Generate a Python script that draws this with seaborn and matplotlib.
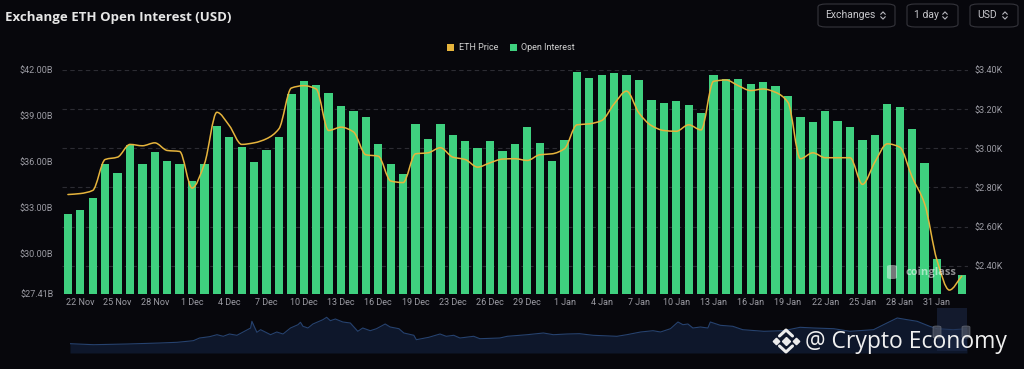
import matplotlib
matplotlib.use('Agg')
import numpy as np
import pandas as pd
import seaborn as sns
import matplotlib.pyplot as plt
import matplotlib.transforms as mtransforms
from matplotlib.path import Path
from matplotlib.patches import PathPatch, Patch, FancyBboxPatch, Rectangle
from matplotlib.lines import Line2D

# ---- data ----
dates = pd.date_range('2024-11-21', '2025-02-02').drop(pd.Timestamp('2024-12-21'))
date_labels = [f"{d.day} {d.strftime('%b')}" for d in dates]

# open interest, billions USD
open_interest = [32.59, 32.85, 33.63, 35.85, 35.26, 37.09, 35.85, 36.67, 36.06, 35.85,
                 34.76, 35.85, 38.35, 37.63, 37.00, 36.00, 36.78, 37.63, 40.41, 41.30,
                 41.02, 40.48, 39.67, 39.33, 38.96, 37.19, 35.87, 35.22, 38.48, 37.52,
                 38.48, 37.74, 37.37, 36.93, 37.35, 36.70, 37.15, 38.26, 37.24, 36.06,
                 37.43, 41.89, 41.46, 41.65, 41.83, 41.65, 41.37, 40.06, 39.85, 39.96,
                 39.70, 39.17, 41.65, 41.39, 41.41, 41.07, 41.20, 40.96, 40.30, 38.91,
                 38.59, 39.33, 38.65, 38.26, 37.46, 37.78, 39.80, 39.57, 38.13, 35.96,
                 29.65, 27.41, 28.63]

# ETH price, thousands USD
eth_price = [2.764, 2.769, 2.785, 2.943, 2.955, 3.020, 3.013, 3.028, 2.989, 2.984,
             2.797, 2.921, 3.184, 3.116, 3.020, 3.028, 3.049, 3.100, 3.308, 3.320,
             3.303, 3.091, 3.108, 3.084, 2.967, 2.960, 2.833, 2.825, 2.972, 2.977,
             3.003, 2.955, 2.943, 2.904, 2.926, 2.945, 2.947, 2.938, 2.967, 2.972,
             2.998, 3.120, 3.125, 3.142, 3.227, 3.292, 3.180, 3.116, 3.091, 3.087,
             3.120, 3.094, 3.342, 3.349, 3.320, 3.295, 3.303, 3.286, 3.235, 2.947,
             2.977, 2.952, 2.952, 2.952, 2.816, 2.930, 3.023, 3.006, 2.853, 2.718,
             2.429, 2.276, 2.347]

oi_ticks = [27.41, 30, 33, 36, 39, 42]
price_ticks = [2.4, 2.6, 2.8, 3.0, 3.2, 3.4]

# range slider overview series (day offset, relative level)
nav_day = [0, 1.9, 4.6, 7.2, 8.6, 9.9, 10.4, 11.2, 11.8, 12.3, 12.8, 13.4, 13.9, 14.5,
           14.6, 15.0, 15.3, 16.1, 16.6, 17.1, 17.7, 18.3, 18.5, 18.7, 19.1, 19.5, 20.3,
           20.6, 20.9, 21.3, 21.9, 22.5, 23.1, 23.5, 24.1, 24.6, 25.3, 25.7, 26.4, 26.8,
           27.6, 27.8, 28.8, 29.7, 30.2, 30.8, 31.3, 32.4, 32.9, 34.5, 35.1, 36.7, 38.0,
           38.8, 39.9, 40.9, 42.0, 43.9, 44.7, 45.8, 46.8, 47.4, 48.2, 48.8, 49.2, 49.6,
           50.0, 50.6, 51.2, 51.4, 52.2, 53.2, 54.0, 55.7, 57.3, 58.6, 59.7, 61.3, 62.6,
           64.5, 65.3, 66.4, 67.2, 68.0, 69.0, 69.6, 70.9, 72.0]
nav_level = [9.3, 8.3, 9.0, 10.0, 10.7, 12.3, 15.0, 16.3, 18.3, 16.7, 19.0, 17.7, 21.0, 25.0,
             31.7, 20.7, 23.3, 18.3, 21.0, 19.0, 25.0, 28.3, 30.7, 26.7, 25.0, 29.0, 33.3,
             35.7, 32.3, 34.0, 31.0, 30.0, 21.7, 25.0, 22.3, 24.3, 29.0, 26.0, 24.3, 20.0,
             17.7, 13.3, 15.7, 19.0, 16.7, 17.7, 15.0, 16.7, 14.3, 15.0, 16.7, 18.3, 20.0,
             18.3, 19.0, 19.3, 17.7, 16.7, 18.3, 21.0, 22.3, 21.0, 24.3, 31.0, 28.3, 29.0,
             25.0, 26.0, 25.0, 31.0, 27.7, 26.7, 23.3, 21.7, 22.3, 25.7, 25.0, 24.3, 21.7,
             23.3, 28.3, 35.0, 33.3, 31.7, 26.7, 24.3, 23.3, 24.3]

BG = '#07070c'
GREEN = '#3fd07f'
GOLD = '#e6b43c'
GRID = '#2c2c33'
TICK = '#9c9ca4'

W, H = 1024, 369


def fx(px):
    return px / W


def fy(py):
    return 1 - py / H


sns.set_theme(style='dark', rc={'axes.facecolor': BG, 'figure.facecolor': BG,
                                'savefig.facecolor': BG, 'axes.edgecolor': BG})
plt.rcParams['font.family'] = ['Roboto', 'DejaVu Sans']

fig = plt.figure(figsize=(10.24, 3.69), dpi=100)

# ---- main chart ----
ax = fig.add_axes([fx(61.7), fy(293.7), (968 - 61.7) / W, (293.7 - 70) / H])
df = pd.DataFrame({'date': date_labels, 'oi': open_interest})
sns.barplot(data=df, x='date', y='oi', color=GREEN, saturation=1, width=0.67,
            ax=ax, zorder=1, linewidth=0, edgecolor='none')
ax.set_xlim(-0.5, len(df) - 0.5)
ax.set_ylim(27.41, 42)
ax.set_yticks(oi_ticks)
ax.set_yticklabels([f'${v:.2f}B' for v in oi_ticks])
ax.set_xticks(range(1, len(df), 3))
ax.set_xticklabels(date_labels[1::3])
ax.set_xlabel('')
ax.set_ylabel('')
ax.tick_params(axis='y', length=0, colors=TICK, labelsize=6.5, pad=6)
ax.tick_params(axis='x', length=0, colors=TICK, labelsize=6.5, pad=3)
for s in ax.spines.values():
    s.set_visible(False)
ax.grid(False)

ax2 = ax.twinx()
ax2.set_ylim(2.2575, 3.40)
ax2.set_yticks(price_ticks)
ax2.set_yticklabels([f'${v:.2f}K' for v in price_ticks])
ax2.tick_params(axis='y', length=0, colors=TICK, labelsize=6.5, pad=5)
for s in ax2.spines.values():
    s.set_visible(False)
ax2.grid(False)

# dashed grid follows the price axis but sits behind the bars
trans = mtransforms.blended_transform_factory(ax.transAxes, ax2.transData)
for t in price_ticks:
    ax.plot([0, 1], [t, t], transform=trans, color=GRID, lw=0.8,
            ls=(0, (4, 3)), zorder=0.5)
ax.plot([0, 1], [2.2575, 2.2575], transform=trans, color=GRID, lw=0.8, zorder=0.5)

# smooth (monotone cubic) price line
y = np.asarray(eth_price)
x = np.arange(len(y))
d = np.diff(y)
m = np.zeros_like(y)
m[0], m[-1] = d[0], d[-1]
for i in range(1, len(y) - 1):
    if d[i - 1] * d[i] > 0:
        m[i] = 2 * d[i - 1] * d[i] / (d[i - 1] + d[i])
verts = [(x[0], y[0])]
codes = [Path.MOVETO]
for i in range(len(y) - 1):
    verts += [(x[i] + 1 / 3, y[i] + m[i] / 3),
              (x[i + 1] - 1 / 3, y[i + 1] - m[i + 1] / 3),
              (x[i + 1], y[i + 1])]
    codes += [Path.CURVE4] * 3
ax2.add_patch(PathPatch(Path(verts, codes), fill=False, edgecolor=GOLD, lw=1.1,
                        zorder=3, capstyle='round', joinstyle='round'))
ax2.set_ylim(2.2575, 3.40)

# ---- title, legend, controls ----
fig.text(fx(5), fy(17.5), 'Exchange ETH Open Interest (USD)', family=['Open Sans', 'DejaVu Sans'],
         weight='bold', fontsize=9.5, color='#e6e6e6', va='center', ha='left')

fig.legend(handles=[Patch(facecolor=GOLD, edgecolor='none', label='ETH Price'),
                    Patch(facecolor=GREEN, edgecolor='none', label='Open Interest')],
           loc='center', bbox_to_anchor=(fx(511), fy(48)), ncol=2, frameon=False,
           fontsize=6.5, labelcolor='#d0d0d0', handlelength=0.75, handleheight=0.75,
           handletextpad=0.5, columnspacing=1.3, borderaxespad=0)


def chevrons(cx, cy):
    for sgn in (-1, 1):
        xs = [fx(cx - 2.3), fx(cx), fx(cx + 2.3)]
        ys = [fy(cy + sgn * 1.2), fy(cy + sgn * 3.6), fy(cy + sgn * 1.2)]
        fig.add_artist(Line2D(xs, ys, transform=fig.transFigure, color='#b8b8be', lw=0.8))


def button(x0, x1, label, tx, cx):
    fig.add_artist(FancyBboxPatch((fx(x0), fy(27)), (x1 - x0) / W, 23 / H,
                                  boxstyle='round,pad=0,rounding_size=0.008',
                                  transform=fig.transFigure, facecolor='none',
                                  edgecolor='#34343b', lw=0.8))
    fig.text(fx(tx), fy(15.5), label, fontsize=7.5, color='#c8c8cc', va='center', ha='left')
    chevrons(cx, 15.5)


button(818, 895, 'Exchanges', 825, 883)
button(907, 958, '1 day', 914, 945)
button(970, 1018, 'USD', 977, 1005)

# coinglass watermark
fig.text(fx(905), fy(272), 'coinglass', family=['Open Sans', 'DejaVu Sans'], weight='bold',
         fontsize=8, color='white', alpha=0.55, va='center', ha='left')
fig.add_artist(FancyBboxPatch((fx(887), fy(279)), 10 / W, 14 / H,
                              boxstyle='round,pad=0,rounding_size=0.004',
                              transform=fig.transFigure, facecolor='white',
                              edgecolor='none', alpha=0.45))

# ---- range slider ----
nav = fig.add_axes([fx(70), fy(353), (967 - 70) / W, (353 - 315) / H])
nav.fill_between(nav_day, nav_level, color='#0e172b', lw=0)
nav.plot(nav_day, nav_level, color='#26426f', lw=0.8)
nav.set_xlim(0, 72)
nav.set_ylim(0, 38)
nav.axis('off')

fig.add_artist(Rectangle((fx(937), fy(351)), 30 / W, 43 / H, transform=fig.transFigure,
                         facecolor='#1d2b4a', edgecolor='none', alpha=0.55))
for hx in (937, 966):
    fig.add_artist(FancyBboxPatch((fx(hx - 4), fy(338)), 8 / W, 12 / H,
                                  boxstyle='round,pad=0,rounding_size=0.003',
                                  transform=fig.transFigure, facecolor='#4a5060',
                                  edgecolor='#70757f', lw=0.5, alpha=0.8))

# ---- Crypto Economy mark ----
LOGO = '#ececec'
fig.add_artist(Line2D([fx(776), fx(796)], [fy(341), fy(341)], transform=fig.transFigure,
                      ls='none', marker='D', markersize=3.3, color=LOGO))
fig.add_artist(Line2D([fx(786)], [fy(341)], transform=fig.transFigure,
                      ls='none', marker='D', markersize=4.2, color=LOGO))
for sgn in (-1, 1):
    fig.add_artist(Line2D([fx(779.5), fx(786), fx(792.5)],
                          [fy(341 + sgn * 5), fy(341 + sgn * 11), fy(341 + sgn * 5)],
                          transform=fig.transFigure, color=LOGO, lw=2.2))
fig.text(fx(805), fy(342), '@ Crypto Economy', family=['Open Sans', 'DejaVu Sans'],
         fontsize=16.5, color='#f0f0f0', va='center', ha='left')

fig.savefig('out.png', dpi=100, facecolor=BG)
